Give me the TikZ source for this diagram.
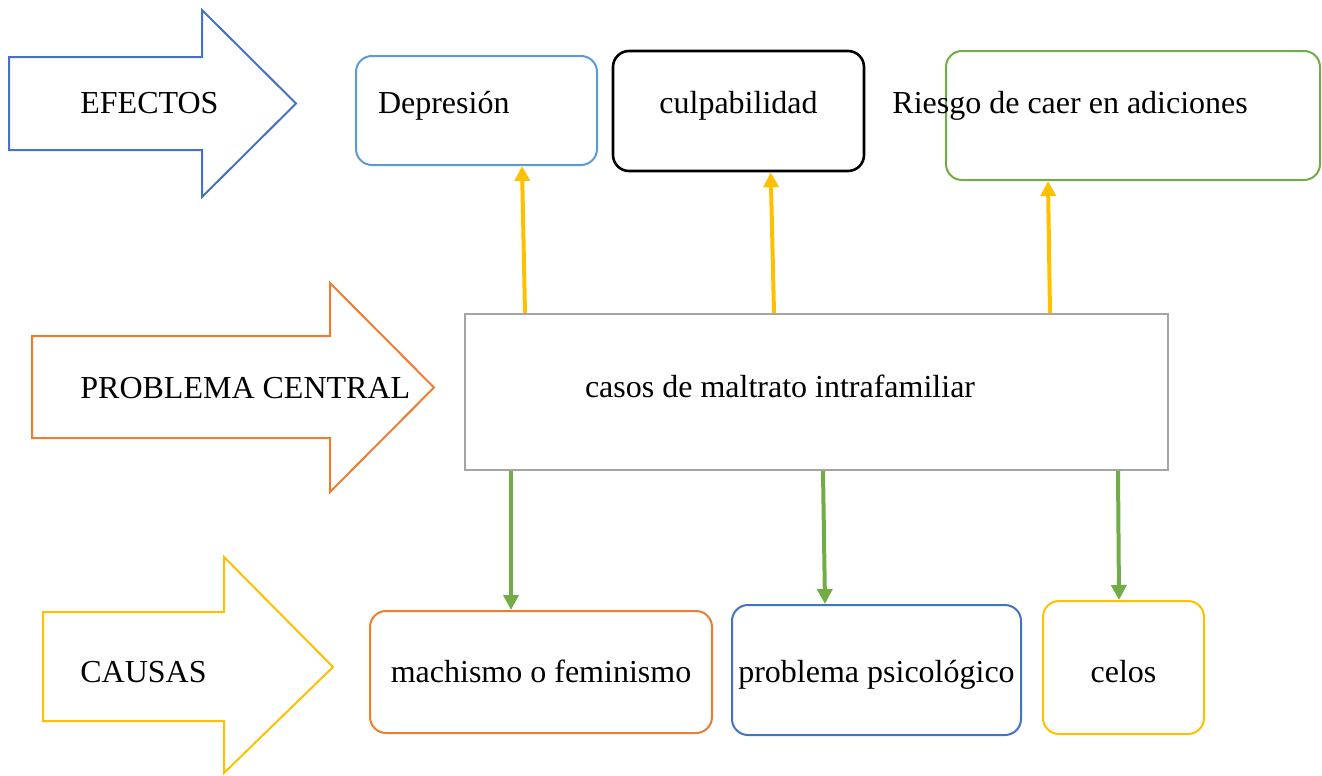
\documentclass[tikz,border=0pt]{standalone}
\usepackage{fontspec}
\setmainfont{Liberation Serif}
\usetikzlibrary{shapes,arrows.meta,calc}
\definecolor{effblue}{HTML}{4472C4}
\definecolor{lightblue}{HTML}{5B9BD5}
\definecolor{orangeline}{HTML}{ED7D31}
\definecolor{yellowline}{HTML}{FFC000}
\definecolor{greenline}{HTML}{70AD47}
\definecolor{grayline}{HTML}{A5A5A5}
\tikzstyle{block} = [rectangle, rounded corners=8pt, line width=1pt, inner sep=2pt, text centered]
\tikzstyle{topblock} = [block, text height=12pt, text depth=9.5pt]
\tikzstyle{bigarrow} = [line width=1pt, line join=miter]
\tikzstyle{label} = [anchor=base west, inner sep=0pt]
\tikzstyle{yellowarrow} = [line width=2pt, draw=yellowline, -{Triangle[width=7.5pt,length=7.5pt]}, color=yellowline]
\tikzstyle{greenarrow} = [line width=2pt, draw=greenline, -{Triangle[width=7.5pt,length=7.5pt]}, color=greenline]

\begin{document}
\begin{tikzpicture}[x=0.5pt, y=-0.5pt, font=\fontsize{16}{19}\selectfont]
    \useasboundingbox (0,0) rectangle (1322,776);

    % big arrows on the left
    \draw [bigarrow, draw=effblue] (9,57) -- (202,57) -- (202,10) -- (296,103.5) -- (202,197) -- (202,150) -- (9,150) -- cycle;
    \draw [bigarrow, draw=orangeline] (32,336) -- (330,336) -- (330,283) -- (434,387.5) -- (330,492) -- (330,438) -- (32,438) -- cycle;
    \draw [bigarrow, draw=yellowline] (43,612) -- (224,612) -- (224,557) -- (333,667) -- (224,773) -- (224,721) -- (43,721) -- cycle;
    \node (efectos) [label] at (80,113) {EFECTOS};
    \node (problema) [label] at (80,398) {PROBLEMA CENTRAL};
    \node (causas) [label] at (80,682) {CAUSAS};

    % effects
    \node (depresion) [topblock, draw=lightblue, minimum width=120.5pt, minimum height=54.5pt, inner xsep=11pt, text width=98.5pt, align=flush left] at (476.5,110.5) {Depresión};
    \node (culpa) [topblock, draw=black, line width=1.3pt, minimum width=125.5pt, minimum height=60pt, text depth=10pt] at (738.5,111) {culpabilidad};
    \node (riesgo) [block, draw=greenline, minimum width=187pt, minimum height=64.5pt] at (1133,115.5) {};
    \node (riesgotxt) [label] at (892,113) {Riesgo de caer en adiciones};

    % central problem
    \node (central) [rectangle, draw=grayline, line width=1pt, minimum width=351.5pt, minimum height=78pt, inner xsep=60pt, text width=231.5pt, align=flush left, text height=11pt, text depth=6pt] at (816.5,392) {casos de maltrato intrafamiliar};

    % causes
    \node (machismo) [block, draw=orangeline, minimum width=171pt, minimum height=61pt, text height=10pt, text depth=0pt] at (541,672) {machismo o feminismo};
    \node (psico) [block, draw=effblue, minimum width=144.5pt, minimum height=65pt, text height=12pt, text depth=0pt] at (876.5,670) {problema psicológico};
    \node (celos) [block, draw=yellowline, minimum width=80.5pt, minimum height=66.5pt, text height=14.5pt, text depth=0pt] at (1123.5,667.5) {celos};

    \draw [yellowarrow] ($(central.north west)+(61,0)$) -- ($(depresion.south west)+(167,0)$);
    \draw [yellowarrow] ($(central.north west)+(310,0)$) -- ($(culpa.south west)+(159,0)$);
    \draw [yellowarrow] ($(central.north west)+(586,0)$) -- ($(riesgo.south west)+(103,0)$);

    \draw [greenarrow] ($(central.south west)+(47,0)$) -- ($(machismo.north west)+(142,0)$);
    \draw [greenarrow] ($(central.south west)+(359,0)$) -- ($(psico.north west)+(94,0)$);
    \draw [greenarrow] ($(central.south west)+(654,0)$) -- ($(celos.north west)+(77,0)$);
\end{tikzpicture}
\end{document}
